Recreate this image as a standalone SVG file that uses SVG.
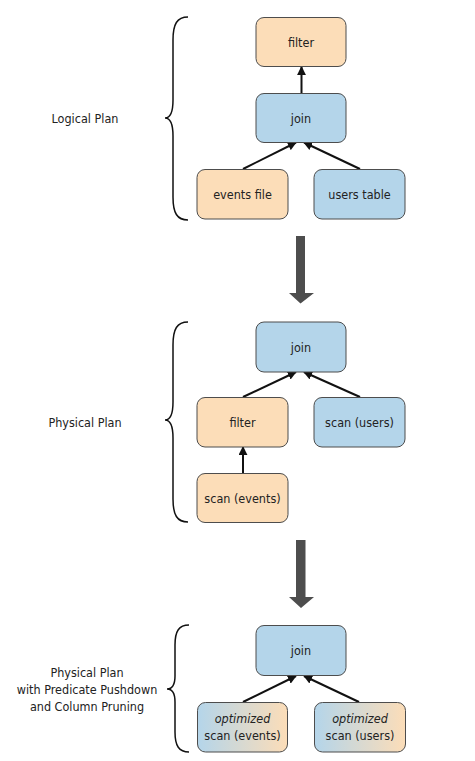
<svg xmlns="http://www.w3.org/2000/svg" width="475" height="761" viewBox="0 0 475 761">
<style>
.box{stroke:#4d4d4d;stroke-width:1;}
.o{fill:#fcddb8;}
.b{fill:#b4d5ea;}
.t{font-family:"DejaVu Sans Condensed","DejaVu Sans",sans-serif;font-size:12.5px;fill:#222;text-anchor:middle;}
.lbl{font-family:"DejaVu Sans Condensed","DejaVu Sans",sans-serif;font-size:12.5px;fill:#222;text-anchor:middle;}
.e{stroke:#111;stroke-width:2;fill:none;}
.brace{stroke:#111;stroke-width:1.5;fill:none;}
.big{fill:#4d4d4d;}
</style>
<defs>
<marker id="a" viewBox="0 0 10 10" refX="9" refY="5" markerWidth="4.5" markerHeight="4.5" orient="auto">
<path d="M0,0 L10,5 L0,10 z" fill="#111"/>
</marker>
<linearGradient id="g" x1="0" y1="0" x2="1" y2="0">
<stop offset="0" stop-color="#b4d5ea"/>
<stop offset="1" stop-color="#fcddb8"/>
</linearGradient>
</defs>

<g id="labels">
<text class="lbl" x="85" y="122.5">Logical Plan</text>
<text class="lbl" x="85" y="427">Physical Plan</text>
<text class="lbl" x="87" y="676.5">Physical Plan</text>
<text class="lbl" x="87" y="694">with Predicate Pushdown</text>
<text class="lbl" x="87" y="711">and Column Pruning</text>
</g>

<g id="braces">
<path class="brace" d="M188,17 C177,17 173,24 173,40 L173,100 C173,112 170,118 165,118 C170,118 173,124 173,136 L173,197 C173,213 177,220 188,220"/>
<path class="brace" d="M188,322 C177,322 173,329 173,345 L173,402 C173,414 170,420 165,420 C170,420 173,426 173,438 L173,499 C173,515 177,522 188,522"/>
<path class="brace" d="M189,625 C179,625 175,631 175,645 L175,676 C175,685 172,689 167,689 C172,689 175,693 175,702 L175,732 C175,746 179,752 189,752"/>
</g>

<g id="bigarrows">
<path class="big" d="M296,236 L305,236 L305,293 L314,293 L300.5,303.5 L289,293 L296,293 z"/>
<path class="big" d="M296,540 L305.5,540 L305.5,597 L314,597 L301,608 L289,597 L296,597 z"/>
</g>

<g id="connectors">
<line class="e" x1="301.5" y1="93" x2="301.5" y2="67" marker-end="url(#a)"/>
<line class="e" x1="243" y1="169" x2="296" y2="142.5" marker-end="url(#a)"/>
<line class="e" x1="360" y1="169" x2="304" y2="142.5" marker-end="url(#a)"/>
<line class="e" x1="243" y1="397" x2="296" y2="372" marker-end="url(#a)"/>
<line class="e" x1="360" y1="397" x2="304" y2="372" marker-end="url(#a)"/>
<line class="e" x1="243" y1="473" x2="243" y2="447" marker-end="url(#a)"/>
<line class="e" x1="243" y1="702" x2="296" y2="676" marker-end="url(#a)"/>
<line class="e" x1="359" y1="702" x2="304" y2="676" marker-end="url(#a)"/>
</g>

<g id="logical-filter"><rect class="box o" x="256" y="17.5" width="90" height="49" rx="8"/><text class="t" x="301" y="46.5">filter</text></g>
<g id="logical-join"><rect class="box b" x="256" y="93.5" width="90" height="49" rx="8"/><text class="t" x="301" y="122.5">join</text></g>
<g id="logical-events"><rect class="box o" x="197" y="169.5" width="91" height="49.5" rx="8"/><text class="t" x="242.5" y="198.5">events file</text></g>
<g id="logical-users"><rect class="box b" x="314" y="169.5" width="91" height="49.5" rx="8"/><text class="t" x="359.5" y="198.5">users table</text></g>

<g id="physical-join"><rect class="box b" x="256" y="322" width="90" height="50" rx="8"/><text class="t" x="301" y="351.5">join</text></g>
<g id="physical-filter"><rect class="box o" x="197" y="397.5" width="91" height="49.5" rx="8"/><text class="t" x="242.5" y="426.5">filter</text></g>
<g id="physical-scan-users"><rect class="box b" x="314" y="397.5" width="91" height="49.5" rx="8"/><text class="t" x="359.5" y="426.5">scan (users)</text></g>
<g id="physical-scan-events"><rect class="box o" x="197" y="473.5" width="91" height="49" rx="8"/><text class="t" x="242.5" y="502.5">scan (events)</text></g>

<g id="opt-join"><rect class="box b" x="256" y="625.5" width="90" height="50" rx="8"/><text class="t" x="301" y="655">join</text></g>
<g id="opt-scan-events"><rect class="box" fill="url(#g)" x="197.5" y="702.5" width="90" height="49.5" rx="8"/><text class="t" x="242.5" y="722.5" font-style="italic">optimized</text><text class="t" x="242.5" y="739.5">scan (events)</text></g>
<g id="opt-scan-users"><rect class="box" fill="url(#g)" x="314.5" y="702.5" width="91" height="49.5" rx="8"/><text class="t" x="360" y="722.5" font-style="italic">optimized</text><text class="t" x="360" y="739.5">scan (users)</text></g>
</svg>
